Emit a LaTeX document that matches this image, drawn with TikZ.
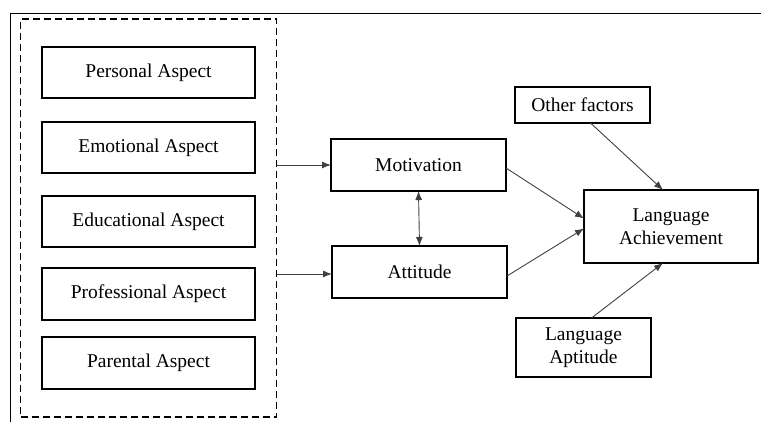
\documentclass[tikz,border=0pt]{standalone}
\usepackage{fontspec}
\setmainfont{Liberation Serif}
\usepackage{tikz}
\usetikzlibrary{calc}
\usetikzlibrary{arrows.meta}
\usetikzlibrary{positioning}
\usetikzlibrary{fit}
\tikzset{blk/.style={rectangle,draw=black,line width=1.6pt,inner sep=0pt,outer sep=0pt,align=center,font=\fontsize{19.5}{23}\selectfont}}
\tikzset{asp/.style={blk,minimum width=213pt,minimum height=51pt}}
\tikzset{lnk/.style={draw=black!75,line width=0.9pt,>={Latex[length=9pt,width=7pt]},->}}

\begin{document}
\begin{tikzpicture}[x=1pt,y=1pt]
\useasboundingbox (0,0) rectangle (761,422);
\draw[line width=0.8pt] (10,0) -- (10,409) -- (761,409);

\node[asp] (A1) at (148.5, 349.5) {Personal Aspect};
\node[asp, below=24pt of A1] (A2) {Emotional Aspect};
\node[asp, below=23pt of A2] (A3) {Educational Aspect};
\node[asp, below=21pt of A3, minimum height=52pt] (A4) {Professional Aspect};
\node[asp, below=17pt of A4, minimum height=52pt] (A5) {Parental Aspect};
\node[draw, line width=1.8pt, dash pattern=on 7pt off 4pt, inner xsep=21.5pt, inner ysep=28pt, outer sep=0pt, fit=(A1)(A5)] (grp) {};

\node[blk, minimum width=175pt, minimum height=52pt] (mot) at (418.5, 257) {Motivation};
\node[blk, minimum width=175pt, minimum height=52pt] (att) at (419.5, 150) {Attitude};
\node[blk, minimum width=174pt, minimum height=73pt] (ach) at (671, 195.5) {Language\\Achievement};
\node[blk, minimum width=135pt, minimum height=36pt] (oth) at (582.5, 317) {Other factors};
\node[blk, minimum width=135pt, minimum height=59pt] (apt) at (583.5, 74.5) {Language\\Aptitude};

\draw[lnk] (grp.east |- mot.west) -- (mot.west);
\draw[lnk] ($(grp.east |- att.west) + (0,-2)$) -- ($(att.west) + (0,-2)$);
\draw[lnk, <->] (mot.south) -- (att.north);
\draw[lnk] ($(mot.east) + (0,-3)$) -- ($(ach.west) + (0,8)$);
\draw[lnk] ($(att.east) + (0,-4)$) -- ($(ach.west) + (0,-2)$);
\draw[lnk] ($(oth.south) + (8,0)$) -- ($(ach.north) + (-8,0)$);
\draw[lnk] ($(apt.north) + (8,0)$) -- ($(ach.south) + (-8,0)$);
\end{tikzpicture}
\end{document}
